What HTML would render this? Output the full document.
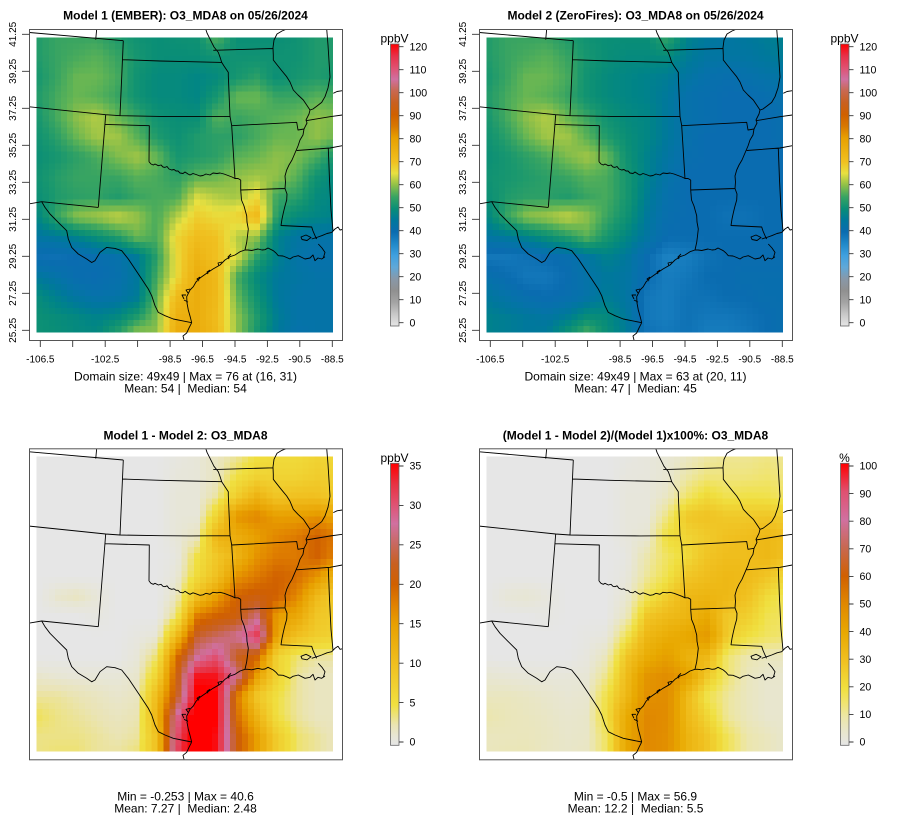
<!DOCTYPE html>
<html><head><meta charset="utf-8">
<style>
html,body{margin:0;padding:0;background:#fff;}
svg{display:block;font-family:"Liberation Sans",Arial,sans-serif;}
.t{font-size:12px;font-weight:bold;text-anchor:middle;fill:#000;}
.b{font-size:12px;text-anchor:middle;fill:#000;white-space:pre;}
.xl{font-size:10px;text-anchor:middle;fill:#000;}
.yl{font-size:10px;text-anchor:middle;fill:#000;}
.cl{font-size:10.6px;fill:#000;}
.u{font-size:12px;text-anchor:middle;fill:#000;}
.tk{stroke:#333;stroke-width:0.9;}
.fr{fill:none;stroke:#555;stroke-width:1;}
.map{fill:none;stroke:#000;stroke-width:0.9;stroke-linejoin:round;}
</style></head>
<body>
<svg id="s" width="900" height="840" viewBox="0 0 900 840" xmlns="http://www.w3.org/2000/svg">
<defs>
<clipPath id="cp"><rect x="29.5" y="29.5" width="313" height="311"/></clipPath>
<linearGradient id="gO" x1="0" y1="1" x2="0" y2="0">
<stop offset="0" stop-color="#e6e6e6"/><stop offset="0.0417" stop-color="#c8c8c8"/><stop offset="0.0833" stop-color="#a4a4a4"/><stop offset="0.125" stop-color="#909090"/><stop offset="0.1667" stop-color="#8898a8"/><stop offset="0.2083" stop-color="#60a8d8"/><stop offset="0.25" stop-color="#40a0e0"/><stop offset="0.2917" stop-color="#2088c8"/><stop offset="0.3333" stop-color="#0a6cb0"/><stop offset="0.375" stop-color="#00789c"/><stop offset="0.4167" stop-color="#0a8e76"/><stop offset="0.4583" stop-color="#38a462"/><stop offset="0.5" stop-color="#90c048"/><stop offset="0.5417" stop-color="#e8e040"/><stop offset="0.5833" stop-color="#f0c020"/><stop offset="0.6667" stop-color="#e8a000"/><stop offset="0.7083" stop-color="#d87800"/><stop offset="0.75" stop-color="#d06000"/><stop offset="0.7917" stop-color="#c86020"/><stop offset="0.8333" stop-color="#c86850"/><stop offset="0.875" stop-color="#d070a0"/><stop offset="0.9167" stop-color="#e05070"/><stop offset="0.9583" stop-color="#e83048"/><stop offset="1" stop-color="#ff0000"/>
</linearGradient>
<linearGradient id="gD" x1="0" y1="1" x2="0" y2="0">
<stop offset="0" stop-color="#e6e6e6"/><stop offset="0.0286" stop-color="#e7e6d8"/><stop offset="0.0714" stop-color="#eae4b4"/><stop offset="0.143" stop-color="#f0e040"/><stop offset="0.214" stop-color="#f0d030"/><stop offset="0.286" stop-color="#f0c020"/><stop offset="0.429" stop-color="#e8a000"/><stop offset="0.5" stop-color="#e08000"/><stop offset="0.571" stop-color="#d06000"/><stop offset="0.643" stop-color="#c86020"/><stop offset="0.714" stop-color="#c86860"/><stop offset="0.786" stop-color="#d070a0"/><stop offset="0.857" stop-color="#e05070"/><stop offset="0.929" stop-color="#e83040"/><stop offset="1" stop-color="#ff0000"/>
</linearGradient>
<linearGradient id="gP" x1="0" y1="1" x2="0" y2="0">
<stop offset="0" stop-color="#e6e6e6"/><stop offset="0.05" stop-color="#e8e6cc"/><stop offset="0.1" stop-color="#ece6a8"/><stop offset="0.15" stop-color="#f0e470"/><stop offset="0.2" stop-color="#f0e040"/><stop offset="0.3" stop-color="#f0c020"/><stop offset="0.4" stop-color="#e8a800"/><stop offset="0.5" stop-color="#e08800"/><stop offset="0.6" stop-color="#d06000"/><stop offset="0.7" stop-color="#c86850"/><stop offset="0.8" stop-color="#d070a0"/><stop offset="0.9" stop-color="#e05070"/><stop offset="1" stop-color="#ff0000"/>
</linearGradient>
<g id="map">
<path class="map" d="M28.3,32.4 L123.3,40.7 M96.7,29 L95.7,39.7 M123.3,40.7 L120,115.7 M122.7,59.7 L160,61 L190,61.7 L221.7,62.4 M28.3,106.7 L105.7,114.7 L120,115.7 L160,116.4 L190,116.6 L230,116.4 M105.7,114.7 L98.3,207.4 M105,124.4 L149.3,125.7 L149,161.7 M149,161.7 L151,164 L153.3,165 L155,164 L158.3,165.7 L161,165 L163,167 L165,167.4 L167,166.5 L169,169 L171.7,170 L174,169.5 L176,171 L178,171 L180,173 L183,173.5 L185,172 L188,174 L190,175 L193,173.5 L196,174.5 L200,176 L203,175.5 L206,174 L210,175 L213,173 L217,173.5 L220,173 L224,174 L228,175.5 L232,177 L235,178.5 L238,178.5 L240.7,180 M228.3,75.7 L230,116.4 L231.7,125.7 L235,179 M205.7,29 L207,33 L211.7,42.4 L214,47 L218.3,52.4 L220,57 L221.7,62.4 L224,66 L228.3,72.4 L228.3,75.7 M213.3,50.3 L273,48.5 M231.7,125.7 L296.7,122.3 L298,130 L304,129 M240.7,180 L240.7,190 L285,188.5 M240.7,190 L241.5,200 L244,206 L246.7,215.7 L247,222 L248.3,229 L247.5,236 L246.7,242.4 L245,250 M286.7,29 L282,31 L277,34 L274,40 L273,47.7 L273.3,55 L273.3,60 L278,66 L282,71 L286.7,76.7 L290,82 L293.3,90 L298,95 L303.3,100 L306,104 L310,110 L309,114 L306,120 L307,123 L304,129 L303,135 L300,140 L298,146 L295,153 L292,160 L289,165 L286.7,170 L285,176 L285.5,182 L285,188.5 L287,194 L286.7,200 L285,206 L284,210 L283.3,213 L282,219 L281,225.5 L311.7,227 L313,231 L315,235.7 L316.7,239 M328.3,148.5 L329.5,180 L331,210 L333,231 M296.7,150.5 L330,148 L342.3,145.7 M306,120.7 L330,116.7 L342.3,115 M326.7,29 L328,45 L330,77 L328,88 L325,96.7 L321.7,102.4 L317,106 L313,109 L310,110 M333.3,93.3 L337,91.5 L342.3,90.7 M245,250 L248,250 L251.7,250.5 L258,249 L262,250 L265,249.7 L268,248 L273.3,250.7 L276,253 L278.3,255.7 L283,256 L286.7,257.5 L290,259 L293,257 L298.3,255.7 L302,257.5 L305,259 L310,258 L313,255 L315,260.7 L318,258 L321.7,259 L325,256.7 M311.7,239 L318,237 L321.7,235.7 L327,233.5 L331.7,232.4 L335,229 L338,227 L340,230 L342.3,229.5 M318.3,244 L322,248 L325,252.4 L323.3,258 M301,237 L306,235 L311,237.5 L307,240.5 L302,239.5 Z M245,250 L240,251.7 L235,255 L230,256.7 L225,260 L220,265 L213,269 L206.7,273.3 L200,278 L196,282 L193.3,286.7 L190,290 L186.7,296.7 L187,303 L188.3,310 L190,316 L191.7,322.7 M41.7,201.7 L45,207.4 L50,214 L58.3,222.4 L66.7,230.7 L68.3,239 L71.7,247.4 L78.3,254 L86.7,259 L91.7,262.5 L95,260.7 L100,252.4 L106.7,247.4 L115,248.4 L121.7,250.7 L128.3,259 L135,269 L141.7,279 L148.3,289 L151.7,295.7 L155,305.7 L158.3,312.4 L165,315.7 L173.3,319 L181.7,320.7 L191.7,322.7 M28.3,204 L41.7,201.7 L98.3,207.4 M191.7,322.7 L189,328 L186.7,333 L183,336 L184,340 M231,254 l-3,3 l1,2 M222,262 l-4,1 l1,3 M210,270 l-3,2 l1,2 M200,277 l-3,2 l2,2 M190,289 l-4,1 l2,3 M186,295 l-4,0 l2,4 M184,300 l4,2"/>
</g>
</defs>

<!-- Panel 1 -->
<g transform="translate(0,0)">
<g id="h1" shape-rendering="crispEdges"></g>
<g clip-path="url(#cp)"><use href="#map"/></g>
<rect class="fr" x="29.5" y="29.5" width="313" height="311"/>
<text class="t" x="185.5" y="19.5">Model 1 (EMBER): O3_MDA8 on 05/26/2024</text>
<g class="tk"><path d="M40.3,340.5V347M72.7,340.5V347M105.2,340.5V347M137.6,340.5V347M170.1,340.5V347M202.5,340.5V347M235,340.5V347M267.4,340.5V347M299.8,340.5V347M332.3,340.5V347"/>
<path d="M22,34.3H29.5M22,71.3H29.5M22,108.3H29.5M22,145.3H29.5M22,182.3H29.5M22,219.3H29.5M22,256.3H29.5M22,293.3H29.5M22,330.3H29.5"/></g>
<text class="xl" x="40.3" y="362.5">-106.5</text><text class="xl" x="105.2" y="362.5">-102.5</text><text class="xl" x="170.1" y="362.5">-98.5</text><text class="xl" x="202.5" y="362.5">-96.5</text><text class="xl" x="235" y="362.5">-94.5</text><text class="xl" x="267.4" y="362.5">-92.5</text><text class="xl" x="299.8" y="362.5">-90.5</text><text class="xl" x="332.3" y="362.5">-88.5</text>
<text class="yl" transform="translate(16.2,34.3) rotate(-90)">41.25</text><text class="yl" transform="translate(16.2,71.3) rotate(-90)">39.25</text><text class="yl" transform="translate(16.2,108.3) rotate(-90)">37.25</text><text class="yl" transform="translate(16.2,145.3) rotate(-90)">35.25</text><text class="yl" transform="translate(16.2,182.3) rotate(-90)">33.25</text><text class="yl" transform="translate(16.2,219.3) rotate(-90)">31.25</text><text class="yl" transform="translate(16.2,256.3) rotate(-90)">29.25</text><text class="yl" transform="translate(16.2,293.3) rotate(-90)">27.25</text><text class="yl" transform="translate(16.2,330.3) rotate(-90)">25.25</text>
<text class="b" x="185.5" y="380.5">Domain size: 49x49 | Max = 76 at (16, 31)</text>
<text class="b" x="185.5" y="392.5">Mean: 54 |  Median: 54</text>
<rect x="390.5" y="44" width="8.5" height="282" fill="url(#gO)" stroke="#666" stroke-width="0.8"/>
<path class="tk" d="M399,322.7H403.5M399,299.7H403.5M399,276.7H403.5M399,253.7H403.5M399,230.7H403.5M399,207.7H403.5M399,184.7H403.5M399,161.7H403.5M399,138.7H403.5M399,115.7H403.5M399,92.7H403.5M399,69.7H403.5M399,46.7H403.5"/>
<text class="u" x="394.5" y="42.5">ppbV</text>
<text class="cl" x="409.5" y="326.4">0</text><text class="cl" x="409.5" y="303.4">10</text><text class="cl" x="409.5" y="280.4">20</text><text class="cl" x="409.5" y="257.4">30</text><text class="cl" x="409.5" y="234.4">40</text><text class="cl" x="409.5" y="211.4">50</text><text class="cl" x="409.5" y="188.4">60</text><text class="cl" x="409.5" y="165.4">70</text><text class="cl" x="409.5" y="142.4">80</text><text class="cl" x="409.5" y="119.4">90</text><text class="cl" x="409.5" y="96.4">100</text><text class="cl" x="409.5" y="73.4">110</text><text class="cl" x="409.5" y="50.4">120</text>
</g>

<!-- Panel 2 -->
<g transform="translate(450,0)">
<g id="h2" shape-rendering="crispEdges"></g>
<g clip-path="url(#cp)"><use href="#map"/></g>
<rect class="fr" x="29.5" y="29.5" width="313" height="311"/>
<text class="t" x="185.5" y="19.5">Model 2 (ZeroFires): O3_MDA8 on 05/26/2024</text>
<g class="tk"><path d="M40.3,340.5V347M72.7,340.5V347M105.2,340.5V347M137.6,340.5V347M170.1,340.5V347M202.5,340.5V347M235,340.5V347M267.4,340.5V347M299.8,340.5V347M332.3,340.5V347"/>
<path d="M22,34.3H29.5M22,71.3H29.5M22,108.3H29.5M22,145.3H29.5M22,182.3H29.5M22,219.3H29.5M22,256.3H29.5M22,293.3H29.5M22,330.3H29.5"/></g>
<text class="xl" x="40.3" y="362.5">-106.5</text><text class="xl" x="105.2" y="362.5">-102.5</text><text class="xl" x="170.1" y="362.5">-98.5</text><text class="xl" x="202.5" y="362.5">-96.5</text><text class="xl" x="235" y="362.5">-94.5</text><text class="xl" x="267.4" y="362.5">-92.5</text><text class="xl" x="299.8" y="362.5">-90.5</text><text class="xl" x="332.3" y="362.5">-88.5</text>
<text class="yl" transform="translate(16.2,34.3) rotate(-90)">41.25</text><text class="yl" transform="translate(16.2,71.3) rotate(-90)">39.25</text><text class="yl" transform="translate(16.2,108.3) rotate(-90)">37.25</text><text class="yl" transform="translate(16.2,145.3) rotate(-90)">35.25</text><text class="yl" transform="translate(16.2,182.3) rotate(-90)">33.25</text><text class="yl" transform="translate(16.2,219.3) rotate(-90)">31.25</text><text class="yl" transform="translate(16.2,256.3) rotate(-90)">29.25</text><text class="yl" transform="translate(16.2,293.3) rotate(-90)">27.25</text><text class="yl" transform="translate(16.2,330.3) rotate(-90)">25.25</text>
<text class="b" x="185.5" y="380.5">Domain size: 49x49 | Max = 63 at (20, 11)</text>
<text class="b" x="185.5" y="392.5">Mean: 47 |  Median: 45</text>
<rect x="390.5" y="44" width="8.5" height="282" fill="url(#gO)" stroke="#666" stroke-width="0.8"/>
<path class="tk" d="M399,322.7H403.5M399,299.7H403.5M399,276.7H403.5M399,253.7H403.5M399,230.7H403.5M399,207.7H403.5M399,184.7H403.5M399,161.7H403.5M399,138.7H403.5M399,115.7H403.5M399,92.7H403.5M399,69.7H403.5M399,46.7H403.5"/>
<text class="u" x="394.5" y="42.5">ppbV</text>
<text class="cl" x="409.5" y="326.4">0</text><text class="cl" x="409.5" y="303.4">10</text><text class="cl" x="409.5" y="280.4">20</text><text class="cl" x="409.5" y="257.4">30</text><text class="cl" x="409.5" y="234.4">40</text><text class="cl" x="409.5" y="211.4">50</text><text class="cl" x="409.5" y="188.4">60</text><text class="cl" x="409.5" y="165.4">70</text><text class="cl" x="409.5" y="142.4">80</text><text class="cl" x="409.5" y="119.4">90</text><text class="cl" x="409.5" y="96.4">100</text><text class="cl" x="409.5" y="73.4">110</text><text class="cl" x="409.5" y="50.4">120</text>
</g>

<!-- Panel 3 -->
<g transform="translate(0,419.3)">
<g id="h3" shape-rendering="crispEdges"></g>
<g clip-path="url(#cp)"><use href="#map"/></g>
<rect class="fr" x="29.5" y="29.5" width="313" height="311"/>
<text class="t" x="185.5" y="20.2">Model 1 - Model 2: O3_MDA8</text>
<text class="b" x="185.5" y="381.2">Min = -0.253 | Max = 40.6</text>
<text class="b" x="185.5" y="393.2">Mean: 7.27 |  Median: 2.48</text>
<rect x="390.5" y="44" width="8.5" height="282" fill="url(#gD)" stroke="#666" stroke-width="0.8"/>
<path class="tk" d="M399,322.7H403.5M399,283.3H403.5M399,243.9H403.5M399,204.4H403.5M399,165H403.5M399,125.5H403.5M399,86.1H403.5M399,46.7H403.5"/>
<text class="u" x="394.5" y="42.5">ppbV</text>
<text class="cl" x="409.5" y="326.4">0</text><text class="cl" x="409.5" y="287">5</text><text class="cl" x="409.5" y="247.6">10</text><text class="cl" x="409.5" y="208.1">15</text><text class="cl" x="409.5" y="168.7">20</text><text class="cl" x="409.5" y="129.2">25</text><text class="cl" x="409.5" y="89.8">30</text><text class="cl" x="409.5" y="50.4">35</text>
</g>

<!-- Panel 4 -->
<g transform="translate(450,419.3)">
<g id="h4" shape-rendering="crispEdges"></g>
<g clip-path="url(#cp)"><use href="#map"/></g>
<rect class="fr" x="29.5" y="29.5" width="313" height="311"/>
<text class="t" x="185.5" y="20.2">(Model 1 - Model 2)/(Model 1)x100%: O3_MDA8</text>
<text class="b" x="185.5" y="381.2">Min = -0.5 | Max = 56.9</text>
<text class="b" x="185.5" y="393.2">Mean: 12.2 |  Median: 5.5</text>
<rect x="390.5" y="44" width="8.5" height="282" fill="url(#gP)" stroke="#666" stroke-width="0.8"/>
<path class="tk" d="M399,322.7H403.5M399,295.1H403.5M399,267.5H403.5M399,239.9H403.5M399,212.3H403.5M399,184.7H403.5M399,157.1H403.5M399,129.5H403.5M399,101.9H403.5M399,74.3H403.5M399,46.7H403.5"/>
<text class="u" x="394.5" y="42.5">%</text>
<text class="cl" x="409.5" y="326.4">0</text><text class="cl" x="409.5" y="298.8">10</text><text class="cl" x="409.5" y="271.2">20</text><text class="cl" x="409.5" y="243.6">30</text><text class="cl" x="409.5" y="216">40</text><text class="cl" x="409.5" y="188.4">50</text><text class="cl" x="409.5" y="160.8">60</text><text class="cl" x="409.5" y="133.2">70</text><text class="cl" x="409.5" y="105.6">80</text><text class="cl" x="409.5" y="78">90</text><text class="cl" x="409.5" y="50.4">100</text>
</g>
</svg>

<script>
(function(){
var D=[
[0,0,0,0,0,0,0,0.5,1,2,3,5,6,6,7,6],
[0,0,0,0,0,0,0,0.8,1,2,5,7,7,7,8,7],
[0,0,0,0,0,0,0,1,1,3,8,12,9,10,10,8],
[0,0,0,0,0,0,0,1,1,7,16,17,15,15,16,14],
[0,0,0,0,0,0,0,1,2,12,13,15,17,18,20,18],
[0,0,0,0,0,0,0,0.5,5,9,12,16,18,18,20,17],
[0,0,0,0,0,0,0,1,6,10,16,18,20,19,16,11],
[0,1.5,2,1,0,0,0,2,10,15,20,21,20,17,11,8],
[0,0,0,0.5,0,0,0,4,18,20,21,26,15,14,9,8],
[0,0,0,0,0,0.5,1,11,23,25,27,32,14,10,8,7],
[0,0,0,0,0,1,4,19,27,30,22,20,7,4,3,3],
[1.5,1.2,1,1,1,1.5,7,21,34,34,27,15,7,3,2,2],
[3,3,2.5,2,1.5,2,11,22,36,35,18,9,5,3,2,2],
[4.5,3.5,3,2.5,2,2.5,12,28,38,35,19,12,5,3,2,2],
[3.5,3.5,3.5,3,2.5,3,10,30,38,34,21,15,8,4,3,2],
[3.5,4,4,3,3,4,10,31,38,34,21,15,8,4,3,2]];
var M=[
[53,55,55,55,53,51,50,50,50,55,47,45,44,45,46,47],
[53,55,56,57,55,52,50,49,49,49,46,44,44,44,45,46],
[52,55,58,58,56,51,49,48,47,46,44,42,41,42,43,44],
[53,56,58,57,55,51,49,48,47,45,42,41,40,40,41,42],
[52,56,60,62,58,55,51,49,48,45,42,41,40,40,40,41],
[51,54,58,61,61,57,53,50,48,45,42,40,40,40,40,41],
[50,52,54,56,59,61,58,51,47,44,41,40,40,40,40,40],
[51,52,53,54,55,57,56,52,47,43,40,40,40,40,40,40],
[50,53,54,54,53,55,56,52,46,42,40,40,40,40,40,40],
[48,55,60,61,63,60,55,51,45,41,40,40,39,39,40,40],
[44,45,47,50,53,57,52,48,44,40,40,40,40,40,40,40],
[38,38,39,40,41,44,47,45,40,36,37,39,40,40,40,40],
[42,40,38,38,40,43,45,44,40,37,38,40,40,41,41,41],
[45,43,41,40,41,43,46,44,38,37,39,39,40,40,41,41],
[47,46,45,44,46,50,49,45,38,37,39,38,38,39,40,41],
[47,46,45,46,52,58,50,46,39,38,39,37,37,38,40,41]];
function interp(T,x,y){
  var gx=(x-37)/20, gy=(y-37)/20;
  gx=Math.max(0,Math.min(15,gx)); gy=Math.max(0,Math.min(15,gy));
  var i0=Math.floor(gx), j0=Math.floor(gy);
  var i1=Math.min(15,i0+1), j1=Math.min(15,j0+1);
  var fx=gx-i0, fy=gy-j0;
  return T[j0][i0]*(1-fx)*(1-fy)+T[j0][i1]*fx*(1-fy)+T[j1][i0]*(1-fx)*fy+T[j1][i1]*fx*fy;
}
function hx(h){return [parseInt(h.substr(0,2),16),parseInt(h.substr(2,2),16),parseInt(h.substr(4,2),16)];}
function mk(st){
  var s=st.map(function(a){return [a[0],hx(a[1])];});
  return function(v){
    var c;
    if(v<=s[0][0]) c=s[0][1];
    else if(v>=s[s.length-1][0]) c=s[s.length-1][1];
    else for(var k=1;k<s.length;k++){ if(v<=s[k][0]){ var t=(v-s[k-1][0])/(s[k][0]-s[k-1][0]); var a=s[k-1][1], b=s[k][1];
      c=[0,1,2].map(function(q){return Math.round(a[q]+(b[q]-a[q])*t);}); break; } }
    return 'rgb('+c[0]+','+c[1]+','+c[2]+')';
  };
}
var pO=mk([[0,'e6e6e6'],[5,'c8c8c8'],[10,'a4a4a4'],[15,'909090'],[20,'8898a8'],[25,'60a8d8'],[30,'40a0e0'],[35,'2088c8'],[40,'0a6cb0'],[42.5,'0672aa'],[45,'00789c'],[47.5,'008488'],[50,'0a8e76'],[52.5,'1a986e'],[55,'38a462'],[57.5,'60b455'],[60,'90c048'],[65,'e8e040'],[70,'f0c020'],[80,'e8a000'],[85,'d87800'],[90,'d06000'],[95,'c86020'],[100,'c86850'],[105,'d070a0'],[110,'e05070'],[115,'e83048'],[120,'ff0000']]);
var pD=mk([[0,'e6e6e6'],[1,'e7e6d8'],[2.5,'eae4b4'],[5,'f0e040'],[7.5,'f0d030'],[10,'f0c020'],[15,'e8a000'],[17.5,'e08000'],[20,'d06000'],[22.5,'c86020'],[25,'c86860'],[27.5,'d070a0'],[30,'e05070'],[32.5,'e83040'],[35,'ff0000']]);
var pP=mk([[0,'e6e6e6'],[5,'e8e6cc'],[10,'ece6a8'],[15,'f0e470'],[20,'f0e040'],[30,'f0c020'],[40,'e8a800'],[50,'e08800'],[60,'d06000'],[70,'c86850'],[80,'d070a0'],[90,'e05070'],[100,'ff0000']]);
var cw=296/49, ch=294.7/49, x0=36.7, y0=37.3;
var P=[['h1',function(d,m){return m+d;},pO],['h2',function(d,m){return m;},pO],['h3',function(d,m){return d;},pD],['h4',function(d,m){return 100*d/(m+d);},pP]];
P.forEach(function(p){
  var g=document.getElementById(p[0]); var h='';
  for(var j=0;j<49;j++){ for(var i=0;i<49;i++){
    var cx=x0+(i+0.5)*cw, cy=y0+(j+0.5)*ch;
    var d=interp(D,cx,cy), m=interp(M,cx,cy);
    var v=p[1](d,m);
    h+='<rect x="'+(x0+i*cw).toFixed(2)+'" y="'+(y0+j*ch).toFixed(2)+'" width="'+(cw+0.45).toFixed(2)+'" height="'+(ch+0.45).toFixed(2)+'" fill="'+p[2](v)+'"/>';
  }}
  g.innerHTML=h;
});
})();
</script>
</body></html>
